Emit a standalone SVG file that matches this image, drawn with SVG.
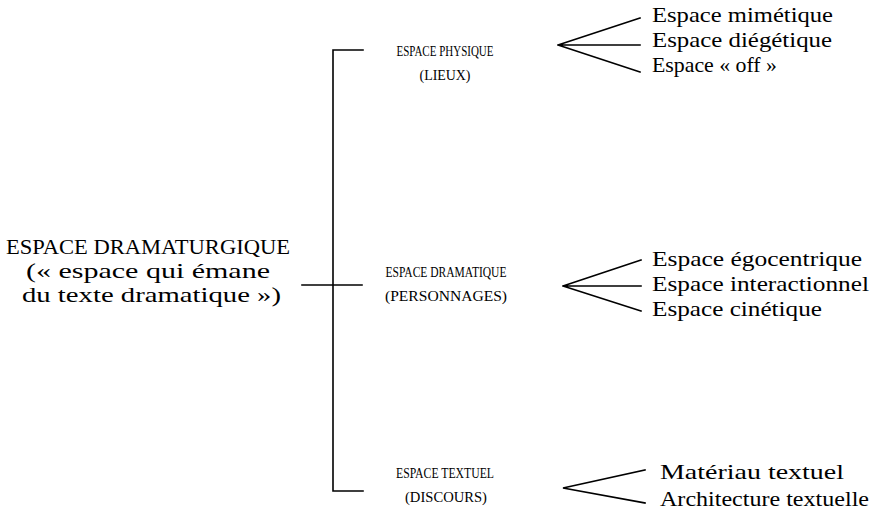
<svg xmlns="http://www.w3.org/2000/svg" width="872" height="515" viewBox="0 0 872 515">
<style>
text{font-family:"Liberation Serif","DejaVu Serif",serif;fill:#000;}
.big{font-size:21px;}
.leaf{font-size:21px;}
.sc{font-size:15px;text-anchor:middle;}
.ln{stroke:#000;stroke-width:1.6;fill:none;stroke-linecap:square;}
</style>
<rect width="872" height="515" fill="#fff"/>
<g id="root">
<text class="big" x="6" y="254" textLength="284" lengthAdjust="spacingAndGlyphs">ESPACE DRAMATURGIQUE</text>
<text class="big" x="26" y="278" textLength="244" lengthAdjust="spacingAndGlyphs">(« espace qui émane</text>
<text class="big" x="22" y="302" textLength="259" lengthAdjust="spacingAndGlyphs">du texte dramatique »)</text>
</g>
<g id="physique">
<text class="sc" x="445" y="56" textLength="97" lengthAdjust="spacingAndGlyphs">ESPACE PHYSIQUE</text>
<text class="sc" x="445" y="80" textLength="51" lengthAdjust="spacingAndGlyphs">(LIEUX)</text>
</g>
<g id="dramatique">
<text class="sc" x="446" y="277" textLength="121" lengthAdjust="spacingAndGlyphs">ESPACE DRAMATIQUE</text>
<text class="sc" x="446" y="301" textLength="122" lengthAdjust="spacingAndGlyphs">(PERSONNAGES)</text>
</g>
<g id="textuel">
<text class="sc" x="445" y="478" textLength="98" lengthAdjust="spacingAndGlyphs">ESPACE TEXTUEL</text>
<text class="sc" x="446" y="502" textLength="82" lengthAdjust="spacingAndGlyphs">(DISCOURS)</text>
</g>
<g id="leaf-mimetique"><text class="leaf" x="652" y="22" textLength="181" lengthAdjust="spacingAndGlyphs">Espace mimétique</text></g>
<g id="leaf-diegetique"><text class="leaf" x="652" y="47" textLength="180" lengthAdjust="spacingAndGlyphs">Espace diégétique</text></g>
<g id="leaf-off"><text class="leaf" x="652" y="72" textLength="125" lengthAdjust="spacingAndGlyphs">Espace « off »</text></g>
<g id="leaf-egocentrique"><text class="leaf" x="652" y="266" textLength="210" lengthAdjust="spacingAndGlyphs">Espace égocentrique</text></g>
<g id="leaf-interactionnel"><text class="leaf" x="652" y="291" textLength="217" lengthAdjust="spacingAndGlyphs">Espace interactionnel</text></g>
<g id="leaf-cinetique"><text class="leaf" x="652" y="316" textLength="170" lengthAdjust="spacingAndGlyphs">Espace cinétique</text></g>
<g id="leaf-materiau"><text class="leaf" x="660" y="479" textLength="184" lengthAdjust="spacingAndGlyphs">Matériau textuel</text></g>
<g id="leaf-architecture"><text class="leaf" x="660" y="506" textLength="209" lengthAdjust="spacingAndGlyphs">Architecture textuelle</text></g>
<g id="connectors">
<path class="ln" d="M363 50 H333 V491 H363"/>
<path class="ln" d="M302 285 H362"/>
<path class="ln" d="M640 18 L558 45 L640 45 M558 45 L640 72"/>
<path class="ln" d="M641 260 L563 286 L641 286 M563 286 L641 311"/>
<path class="ln" d="M645 470 L563 488 L645 503"/>
</g>
</svg>
